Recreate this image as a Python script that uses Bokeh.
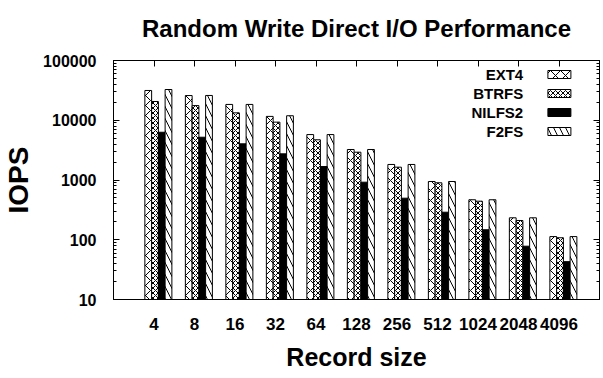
from bokeh.plotting import figure
from bokeh.models import Range1d, FixedTicker, LogAxis, LinearAxis, ColumnDataSource
from bokeh.embed import file_html
from bokeh.resources import INLINE
from bokeh.core.properties import value

# ---- data ----
record_sizes = ["4", "8", "16", "32", "64", "128", "256", "512", "1024", "2048", "4096"]
series_names = ["EXT4", "BTRFS", "NILFS2", "F2FS"]
ext4 = [31500, 25900, 18400, 11600, 5760, 3240, 1820, 944, 467, 233, 113]
btrfs = [20600, 17600, 13300, 9300, 4710, 2920, 1640, 898, 442, 210, 108]
nilfs2 = [6300, 5200, 4030, 2740, 1680, 919, 496, 289, 147, 78, 43]
f2fs = [32700, 26000, 18400, 11900, 5760, 3240, 1820, 944, 467, 233, 113]
y_ticks = [10, 100, 1000, 10000, 100000]
title_text = "Random Write Direct I/O Performance"

FONT = "Liberation Sans"

p = figure(width=603, height=378, y_axis_type="log",
           x_range=Range1d(-1, 11), y_range=Range1d(10, 100000),
           output_backend="svg", toolbar_location=None,
           min_border_left=110, min_border_right=3,
           min_border_top=60, min_border_bottom=79)
p.grid.visible = False
p.outline_line_color = "black"
p.outline_line_width = 1
p.background_fill_color = "white"
p.border_fill_color = "white"

# title
p.title.text = title_text
p.title.align = "center"
p.title.vertical_align = "top"
p.title.text_font = FONT
p.title.text_font_size = "24px"
p.title.text_font_style = "bold"
p.title.text_color = "black"
p.title.standoff = 24

x_idx = list(range(len(record_sizes)))
styles = [
    dict(fill_color="white", hatch_pattern="diagonal_cross", hatch_scale=10),
    dict(fill_color="white", hatch_pattern="diagonal_cross", hatch_scale=5),
    dict(fill_color="black"),
    dict(fill_color="white", hatch_pattern="left_diagonal_line", hatch_scale=12),
]
offsets = [-0.142, 0.025, 0.192, 0.358]
bw = 0.167
for vals, off, st in zip([ext4, btrfs, nilfs2, f2fs], offsets, styles):
    src = ColumnDataSource(dict(x=[i + off for i in x_idx], top=vals))
    p.vbar(x="x", top="top", bottom=10, width=bw, source=src,
           line_color="black", line_width=1, hatch_color="black",
           hatch_weight=1, **st)

# legend (text right-aligned, swatch to the right)
px_per_decade = 239 / 4.0
leg_rows_px = [14, 33, 52, 71]  # px below top of frame
leg_y = [10 ** (5 - r / px_per_decade) for r in leg_rows_px]
p.text(x=[9.115] * 4, y=leg_y, text=series_names, text_align="right",
       text_baseline="middle", text_font=value(FONT), text_font_size="15px",
       text_font_style="bold", text_color="black")
for yy, st in zip(leg_y, styles):
    p.rect(x=[10.01], y=[yy], width=23, height=8, width_units="screen",
           height_units="screen", line_color="black", line_width=1,
           hatch_color="black", hatch_weight=1, **st)

# bottom axis
xa = p.xaxis[0]
xa.ticker = FixedTicker(ticks=x_idx)
xa.major_label_overrides = {i: s for i, s in zip(x_idx, record_sizes)}
xa.major_tick_in = 0
xa.major_tick_out = 0
xa.minor_tick_line_color = None
xa.major_label_standoff = 18
xa.major_label_text_font = FONT
xa.major_label_text_font_size = "17px"
xa.major_label_text_font_style = "bold"
xa.major_label_text_color = "black"
xa.axis_label = "Record size"
xa.axis_label_text_font = FONT
xa.axis_label_text_font_size = "25px"
xa.axis_label_text_font_style = "bold"
xa.axis_label_text_color = "black"
xa.axis_label_standoff = 10
xa.axis_line_color = "black"

# left axis
minor = [m * 10 ** e for e in range(1, 5) for m in range(2, 10)]
ya = p.yaxis[0]
ya.ticker = FixedTicker(ticks=y_ticks, minor_ticks=minor)
ya.major_label_overrides = {t: str(t) for t in y_ticks}
ya.major_tick_in = 6
ya.major_tick_out = 0
ya.minor_tick_in = 3
ya.minor_tick_out = 0
ya.major_label_standoff = 17
ya.major_label_text_font = FONT
ya.major_label_text_font_size = "16px"
ya.major_label_text_font_style = "bold"
ya.major_label_text_color = "black"
ya.axis_label = "IOPS"
ya.axis_label_text_font = FONT
ya.axis_label_text_font_size = "28px"
ya.axis_label_text_font_style = "bold"
ya.axis_label_text_color = "black"
ya.axis_label_standoff = 6
ya.axis_line_color = "black"

# mirrored right axis (ticks only)
ra = LogAxis(ticker=FixedTicker(ticks=y_ticks, minor_ticks=minor),
             major_tick_in=6, major_tick_out=0, minor_tick_in=3, minor_tick_out=0,
             major_label_overrides={t: " " for t in y_ticks},
             major_label_text_font_size="2px", major_label_standoff=0,
             axis_line_color="black")
p.add_layout(ra, "right")

# mirrored top axis (ticks only)
ta = LinearAxis(ticker=FixedTicker(ticks=x_idx), major_tick_in=6, major_tick_out=0,
                minor_tick_line_color=None,
                major_label_overrides={i: " " for i in x_idx},
                major_label_text_font_size="2px", major_label_standoff=0,
                axis_line_color="black")
p.add_layout(ta, "above")

open("out.html", "w").write(file_html(p, INLINE))
